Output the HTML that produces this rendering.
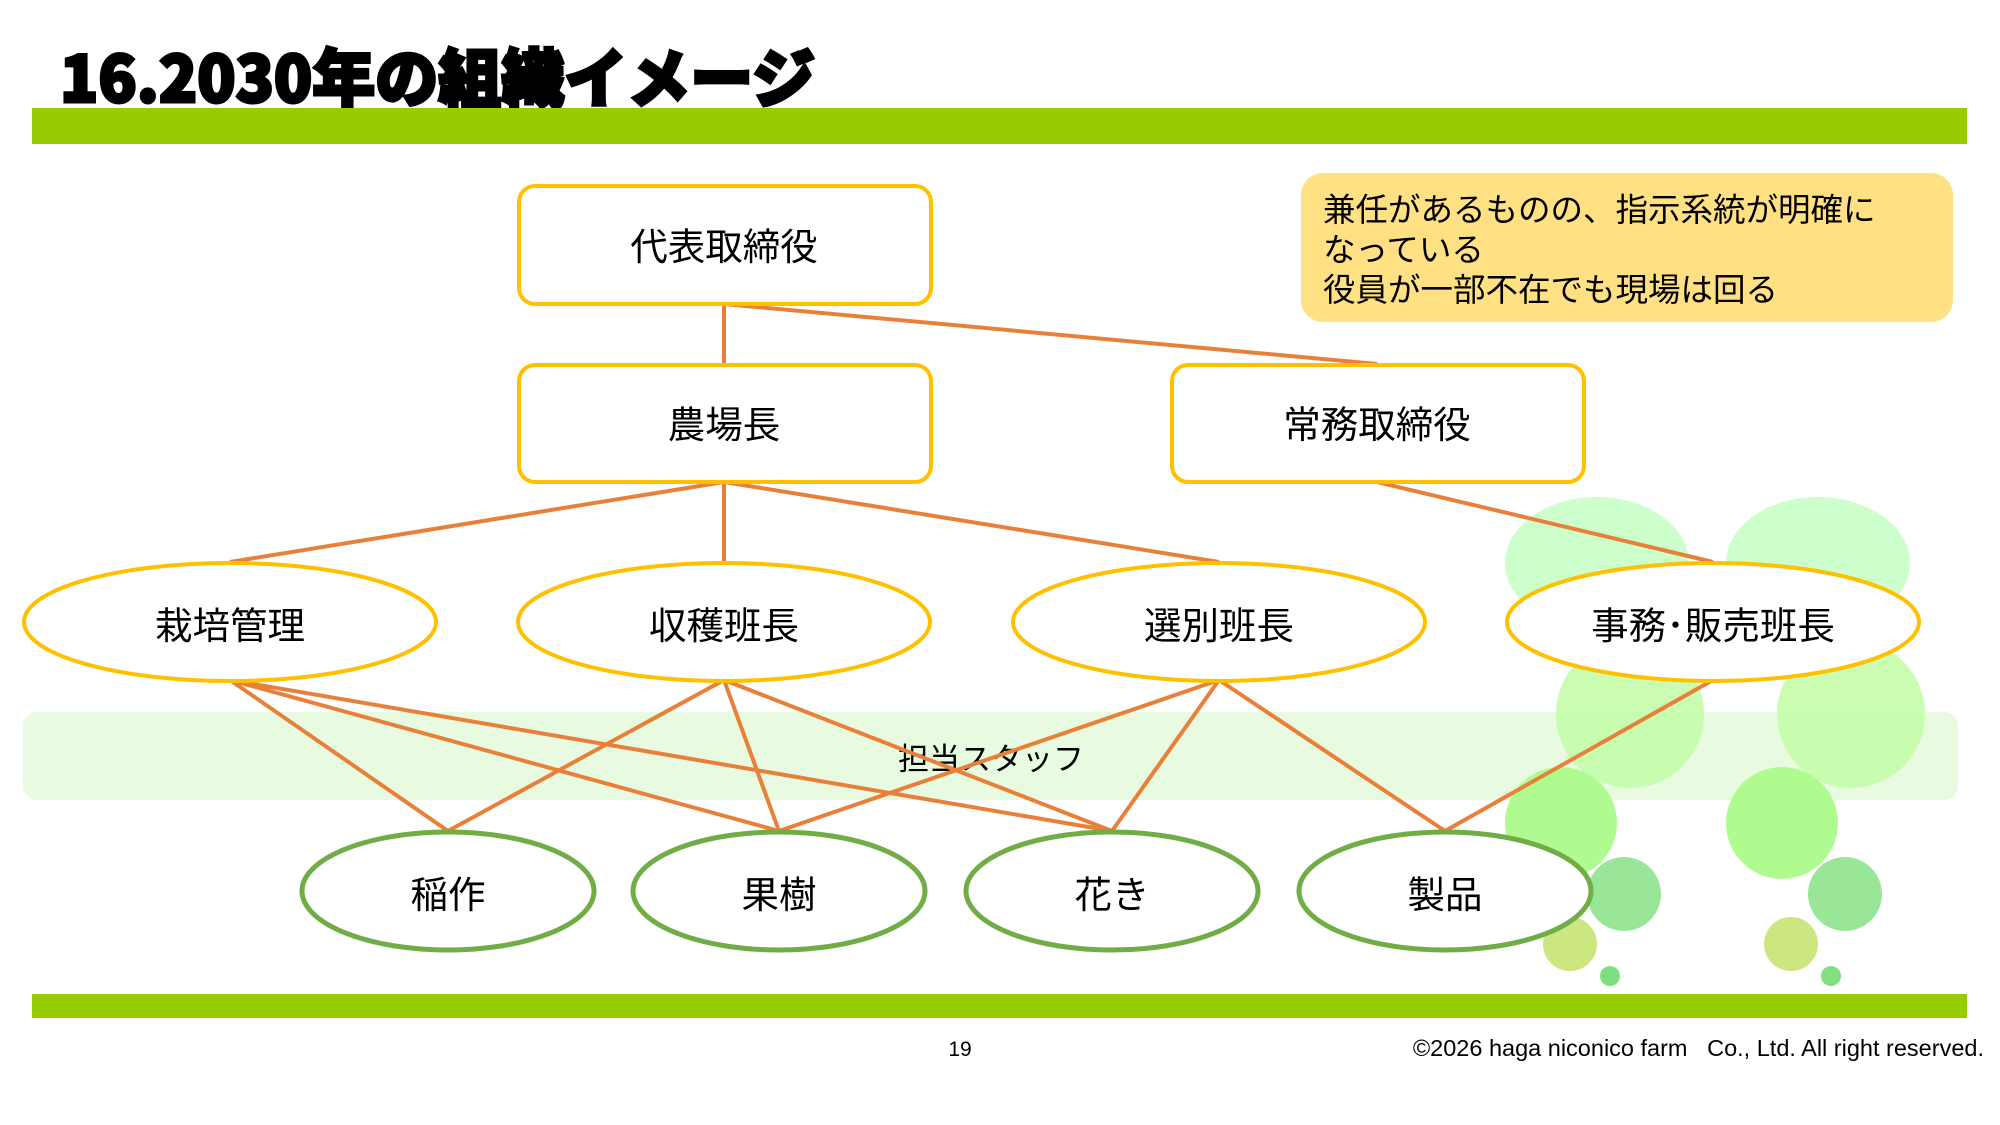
<!DOCTYPE html>
<html><head><meta charset="utf-8"><style>
html,body{margin:0;padding:0;background:#fff;width:2000px;height:1125px;overflow:hidden}
svg text{font-family:"Liberation Sans","Noto Sans CJK JP",sans-serif}
</style></head><body>
<svg width="2000" height="1125" viewBox="0 0 2000 1125" xmlns="http://www.w3.org/2000/svg">
<text x="60" y="102" font-size="64" font-weight="900" fill="#000" stroke="#000" stroke-width="3" textLength="755" lengthAdjust="spacingAndGlyphs" style="font-family:'Noto Sans CJK JP',sans-serif">16.2030年の組織イメージ</text>
<rect x="32" y="108" width="1935" height="36" fill="#99cc00"/>
<rect x="32" y="994" width="1935" height="24" fill="#99cc00"/>
<g>
<ellipse cx="1597" cy="563" rx="92" ry="66" fill="#ccffcc"/>
<ellipse cx="1818" cy="563" rx="92" ry="66" fill="#ccffcc"/>
<rect x="23" y="712" width="1935" height="88" rx="14" fill="#e8fbe0"/>
<circle cx="1630" cy="714" r="74" fill="#c4fcaa" opacity="0.9"/>
<circle cx="1851" cy="714" r="74" fill="#c4fcaa" opacity="0.9"/>
<circle cx="1561" cy="823" r="56" fill="#b0fb90"/>
<circle cx="1782" cy="823" r="56" fill="#b0fb90"/>
<circle cx="1624" cy="894" r="37" fill="#99e699"/>
<circle cx="1845" cy="894" r="37" fill="#99e699"/>
<circle cx="1570" cy="944" r="27" fill="#cce680"/>
<circle cx="1791" cy="944" r="27" fill="#cce680"/>
<circle cx="1610" cy="976" r="10" fill="#80e080"/>
<circle cx="1831" cy="976" r="10" fill="#80e080"/>
</g>
<text x="991" y="770" font-size="31" text-anchor="middle" fill="#000">担当スタッフ</text>
<g stroke="#e8803a" stroke-width="4" fill="none">
<line x1="724" y1="304" x2="724" y2="364"/>
<line x1="724" y1="304" x2="1377" y2="364"/>
<line x1="724" y1="482" x2="230" y2="562"/>
<line x1="724" y1="482" x2="724" y2="562"/>
<line x1="724" y1="482" x2="1219" y2="562"/>
<line x1="1377" y1="482" x2="1713" y2="562"/>
<line x1="230" y1="680" x2="448" y2="831"/>
<line x1="230" y1="680" x2="779" y2="831"/>
<line x1="230" y1="680" x2="1112" y2="831"/>
<line x1="724" y1="680" x2="448" y2="831"/>
<line x1="724" y1="680" x2="779" y2="831"/>
<line x1="724" y1="680" x2="1112" y2="831"/>
<line x1="1219" y1="680" x2="779" y2="831"/>
<line x1="1219" y1="680" x2="1112" y2="831"/>
<line x1="1219" y1="680" x2="1445" y2="831"/>
<line x1="1713" y1="680" x2="1445" y2="831"/>
</g>
<g fill="#fff" stroke="#ffc000" stroke-width="4">
<rect x="519" y="186" width="412" height="118" rx="16"/>
<rect x="519" y="365" width="412" height="117" rx="16"/>
<rect x="1172" y="365" width="412" height="117" rx="16"/>
<ellipse cx="230" cy="622" rx="206" ry="59"/>
<ellipse cx="724" cy="622" rx="206" ry="59"/>
<ellipse cx="1219" cy="622" rx="206" ry="59"/>
<ellipse cx="1713" cy="622" rx="206" ry="59"/>
</g>
<g fill="#fff" stroke="#70ad47" stroke-width="5">
<ellipse cx="448" cy="891" rx="146" ry="59"/>
<ellipse cx="779" cy="891" rx="146" ry="59"/>
<ellipse cx="1112" cy="891" rx="146" ry="59"/>
<ellipse cx="1445" cy="891" rx="146" ry="59"/>
</g>
<g font-size="37.5" text-anchor="middle" fill="#000">
<text x="724" y="260">代表取締役</text>
<text x="724" y="438">農場長</text>
<text x="1377" y="438">常務取締役</text>
<text x="230" y="639">栽培管理</text>
<text x="724" y="639">収穫班長</text>
<text x="1219" y="639">選別班長</text>
<text x="1713" y="639">事務･販売班長</text>
<text x="448" y="908">稲作</text>
<text x="779" y="908">果樹</text>
<text x="1112" y="908">花き</text>
<text x="1445" y="908">製品</text>
</g>
<rect x="1301" y="173" width="652" height="149" rx="22" fill="#ffe083"/>
<g font-size="32.5" fill="#000">
<text x="1323" y="221">兼任があるものの、指示系統が明確に</text>
<text x="1323" y="261">なっている</text>
<text x="1323" y="301">役員が一部不在でも現場は回る</text>
</g>
<text x="960" y="1056" font-size="21" text-anchor="middle" fill="#000">19</text>
<text x="1984" y="1056" font-size="23.5" text-anchor="end" fill="#000" xml:space="preserve" style="white-space:pre">©2026 haga niconico farm   Co., Ltd. All right reserved.</text>
</svg>
</body></html>
